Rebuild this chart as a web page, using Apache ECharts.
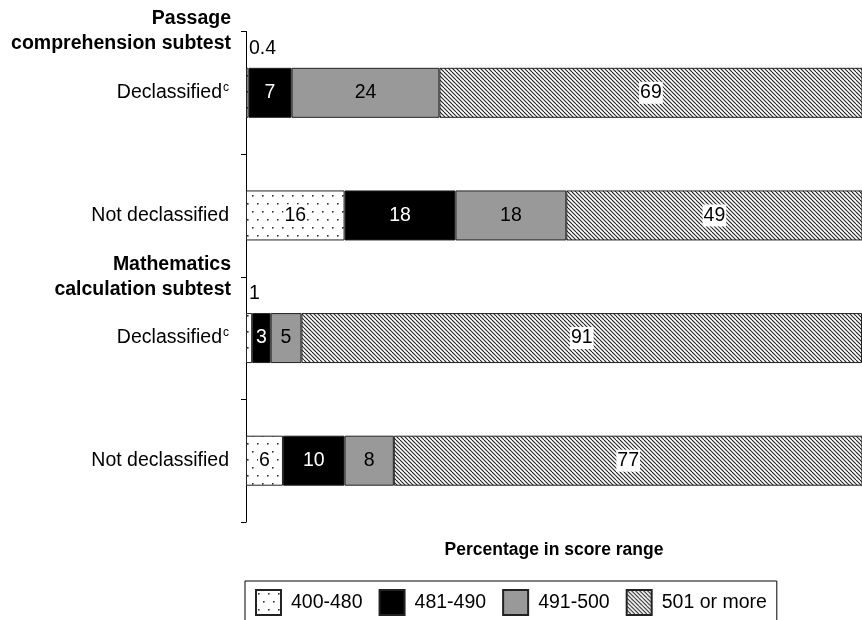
<!DOCTYPE html>
<html>
<head>
<meta charset="utf-8">
<script src="https://cdn.jsdelivr.net/npm/echarts@6/dist/echarts.min.js"></script>
<style>
html,body{margin:0;padding:0;background:#fff;}
#chart{width:862px;height:620px;}
</style>
</head>
<body>
<div id="chart"></div>
<script>
// ---- data ----
const categories = ['Declassified', 'Not declassified', 'Declassified', 'Not declassified'];
const categoryNotes = ['c', '', 'c', ''];
const groupHeaders = ['Passage\ncomprehension subtest', '', 'Mathematics\ncalculation subtest', '', ''];
const rangeNames = ['400-480', '481-490', '491-500', '501 or more'];
const range400to480 = [0.4, 16, 1, 6];
const range481to490 = [7, 18, 3, 10];
const range491to500 = [24, 18, 5, 8];
const range501plus = [69, 49, 91, 77];
const axisTitle = 'Percentage in score range';

// ---- patterns ----
function dotPattern() {
  const c = document.createElement('canvas');
  c.width = 10; c.height = 16;
  const g = c.getContext('2d');
  g.fillStyle = '#fff'; g.fillRect(0, 0, 10, 16);
  g.fillStyle = '#333';
  g.fillRect(2, 3, 1.6, 1.6);
  g.fillRect(7, 11, 1.6, 1.6);
  return c;
}
function hatchPattern() {
  const c = document.createElement('canvas');
  c.width = 8; c.height = 8;
  const g = c.getContext('2d');
  g.fillStyle = '#fff'; g.fillRect(0, 0, 8, 8);
  g.strokeStyle = '#222'; g.lineWidth = 1.1;
  for (let k = -16; k <= 16; k += 4) {
    g.beginPath(); g.moveTo(k, 0); g.lineTo(k + 8, 8); g.stroke();
  }
  return c;
}

const FONT = 'Arial, "Liberation Sans", sans-serif';
const FS = 19.5;
const fills = [
  { image: dotPattern(), repeat: 'repeat' },
  '#000000',
  '#999999',
  { image: hatchPattern(), repeat: 'repeat' }
];
const labelColors = ['#000', '#fff', '#000', '#000'];
const labelBg = ['#fff', 'transparent', 'transparent', '#fff'];
const seriesValues = [range400to480, range481to490, range491to500, range501plus];

function buildData(values) {
  return values.map(v => {
    if (v < 2) {
      return {
        value: v,
        label: { position: [2, -19], align: 'left', verticalAlign: 'middle', color: '#000', backgroundColor: 'transparent' }
      };
    }
    return v;
  });
}

const series = seriesValues.map((vals, si) => ({
  name: rangeNames[si],
  type: 'bar',
  stack: 'total',
  barWidth: 50,
  xAxisIndex: 0,
  yAxisIndex: 0,
  itemStyle: { color: fills[si], borderColor: '#222', borderWidth: 1 },
  label: {
    show: true,
    position: 'inside',
    color: labelColors[si],
    backgroundColor: labelBg[si],
    padding: [1, 1],
    fontFamily: FONT,
    fontSize: FS,
    formatter: p => String(p.value)
  },
  emphasis: { disabled: true },
  data: buildData(vals)
}));

const headerData = groupHeaders.map((h, i) => i === 0 ? { value: h, textStyle: { padding: [13, 0, 0, 0] } } : h);

const chart = echarts.init(document.getElementById('chart'), null, { renderer: 'canvas' });
chart.setOption({
  animation: false,
  backgroundColor: '#fff',
  grid: { left: 246, right: -4, top: 28, bottom: 98, containLabel: false },
  xAxis: {
    type: 'value', min: 0, max: 100,
    axisLine: { show: false }, axisTick: { show: false }, axisLabel: { show: false },
    splitLine: { show: false },
    name: axisTitle, nameLocation: 'middle', nameGap: 19,
    nameTextStyle: { fontFamily: FONT, fontSize: 17.5, fontWeight: 'bold', color: '#000' }
  },
  yAxis: [
    {
      type: 'category', inverse: true, data: categories, position: 'left', offset: 0,
      axisLine: { show: true, lineStyle: { color: '#000', width: 1 } },
      axisTick: { show: true, length: 5, lineStyle: { color: '#000' } },
      axisLabel: {
        margin: 17, color: '#000',
        formatter: (val, idx) => categoryNotes[idx] ? '{n|' + val + '}{sup|' + categoryNotes[idx] + '}' : '{n|' + val + '}',
        fontFamily: FONT, fontSize: FS,
        rich: {
          n: { fontFamily: FONT, fontSize: FS, color: '#000' },
          sup: { fontFamily: FONT, fontSize: 12, color: '#000', verticalAlign: 'top', padding: [0, 0, 10, 1] }
        }
      }
    },
    {
      type: 'category', inverse: true, data: headerData, position: 'left', offset: 0,
      boundaryGap: false,
      axisLine: { show: false }, axisTick: { show: false },
      axisLabel: {
        margin: 15, color: '#000', fontFamily: FONT, fontSize: FS, fontWeight: 'bold',
        lineHeight: 25, interval: 0
      }
    }
  ],
  legend: {
    top: 581, left: 245,
    orient: 'horizontal',
    data: rangeNames,
    itemWidth: 25, itemHeight: 25, itemGap: 16,
    padding: [8, 10, 10, 10],
    borderColor: '#000', borderWidth: 1,
    textStyle: { fontFamily: FONT, fontSize: FS, color: '#000', padding: [0, 0, 0, 5] },
    selectedMode: false,
    icon: 'rect'
  },
  series: series
});
</script>
</body>
</html>
